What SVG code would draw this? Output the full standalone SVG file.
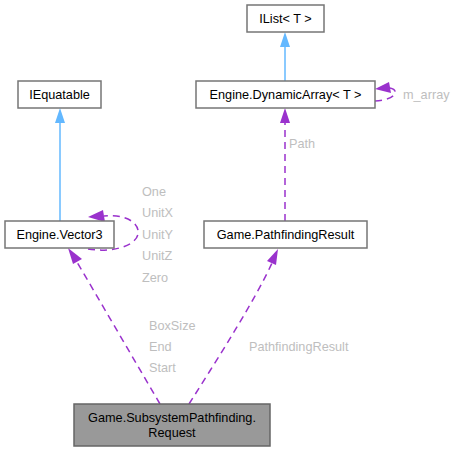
<svg xmlns="http://www.w3.org/2000/svg" width="459" height="452" viewBox="0 0 459 452">
<style>
.box{fill:#ffffff;stroke:#767676;stroke-width:1.5}
.sel{fill:#999999;stroke:#666666;stroke-width:1.5}
.t{font-family:"Liberation Sans",Arial,sans-serif;font-size:12.7px;fill:#000000;text-anchor:middle}
.lbl{font-family:"Liberation Sans",Arial,sans-serif;font-size:12.7px;fill:#bebebe}
.inh{stroke:#63b8ff;stroke-width:1.5;fill:none}
.use{stroke:#9a32cd;stroke-width:1.5;fill:none;stroke-dasharray:7,5}
.ah{fill:#63b8ff}
.ap{fill:#9a32cd}
</style>
<rect width="459" height="452" fill="#ffffff"/>
<g id="edges">
<line class="inh" x1="285" y1="81" x2="285" y2="46"/>
<polygon class="ah" points="285,32 290,47 280,47"/>
<line class="inh" x1="60" y1="221" x2="60" y2="122"/>
<polygon class="ah" points="60,108 65,123 55,123"/>
<line class="use" x1="285" y1="221" x2="285" y2="123"/>
<polygon class="ap" points="285,108 290,123 280,123"/>
<path class="use" d="M375,101 C396,100 400,90 390,88"/>
<polygon class="ap" points="375,89 389,82 391,93"/>
<path class="use" d="M88,249 C112,253 136,246 138,234 C140,222 124,214 104,216"/>
<polygon class="ap" points="88,217 103,210 105,222"/>
<line class="use" x1="160" y1="404" x2="77" y2="262"/>
<polygon class="ap" points="68,248 82,259 73,264"/>
<path class="use" d="M189,404 C220,355 255,300 272,263"/>
<polygon class="ap" points="278,249 276,265 267,261"/>
</g>
<g class="lbl">
<text x="289" y="148">Path</text>
<text x="403" y="99">m_array</text>
<text x="142" y="196">One</text>
<text x="142" y="217">UnitX</text>
<text x="142" y="239">UnitY</text>
<text x="142" y="260">UnitZ</text>
<text x="142" y="282">Zero</text>
<text x="149" y="330">BoxSize</text>
<text x="149" y="351">End</text>
<text x="149" y="372">Start</text>
<text x="249" y="351">PathfindingResult</text>
</g>
<g id="ilist"><rect class="box" x="247" y="5" width="77" height="27"/><text class="t" x="285.5" y="23">IList&lt; T &gt;</text></g>
<g id="dynarray"><rect class="box" x="196" y="81" width="179" height="27"/><text class="t" x="285.5" y="99">Engine.DynamicArray&lt; T &gt;</text></g>
<g id="iequatable"><rect class="box" x="18" y="81" width="83" height="27"/><text class="t" x="59.5" y="99">IEquatable</text></g>
<g id="vector3"><rect class="box" x="5" y="221" width="109" height="27"/><text class="t" x="59.5" y="239">Engine.Vector3</text></g>
<g id="pathresult"><rect class="box" x="204" y="221" width="163" height="27"/><text class="t" x="285.5" y="239">Game.PathfindingResult</text></g>
<g id="request"><rect class="sel" x="74" y="404" width="196" height="42"/><text class="t" x="172" y="422">Game.SubsystemPathfinding.</text><text class="t" x="172" y="437">Request</text></g>
</svg>
